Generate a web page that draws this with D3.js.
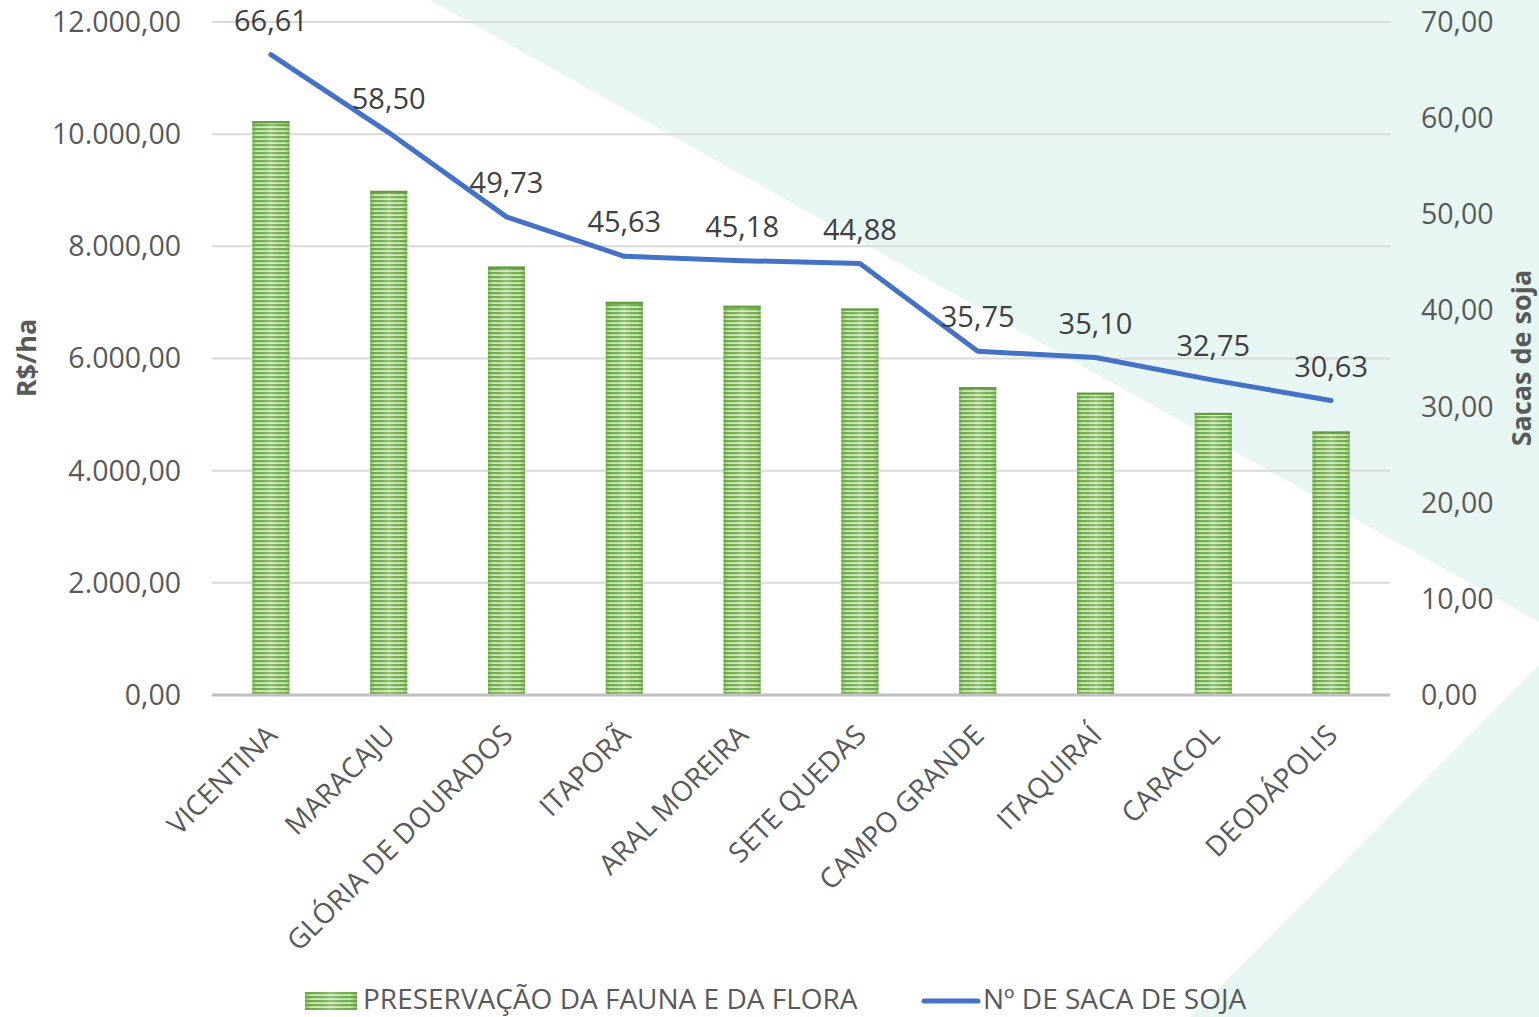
<!DOCTYPE html>
<html>
<head>
<meta charset="utf-8">
<title>Preservação da fauna e da flora</title>
<script src="https://d3js.org/d3.v7.min.js" charset="utf-8"></script>
<style>
  body { margin: 0; background: #fff; }
  text { font-family: "Open Sans", sans-serif; }
</style>
</head>
<body>
<script>
// dados
var municipios = ["VICENTINA", "MARACAJU", "GLÓRIA DE DOURADOS", "ITAPORÃ", "ARAL MOREIRA",
                  "SETE QUEDAS", "CAMPO GRANDE", "ITAQUIRAÍ", "CARACOL", "DEODÁPOLIS"];
var valorHa = [10230, 8990, 7640, 7010, 6940, 6890, 5490, 5390, 5030, 4700];   // R$/ha
var sacas = [66.61, 58.50, 49.73, 45.63, 45.18, 44.88, 35.75, 35.10, 32.75, 30.63];
var ticksEsq = [0, 2000, 4000, 6000, 8000, 10000, 12000];
var ticksDir = [0, 10, 20, 30, 40, 50, 60, 70];

var w = 1539, h = 1017;
var fmt = function(v) {
  return v.toFixed(2).replace(".", ",").replace(/\B(?=(\d{3})+(?!\d))/g, ".");
};

var svg = d3.select("body").append("svg")
  .attr("width", w).attr("height", h);

// fundo com triângulos
var bg = "#e8f6f3";
svg.append("path").attr("d", "M430,0 L1539,0 L1539,622 Z").attr("fill", bg);
svg.append("path").attr("d", "M1539,665 L1539,1017 L1190,1017 Z").attr("fill", bg);

// padrão listrado das barras
var defs = svg.append("defs");
var pat = defs.append("pattern").attr("id", "listras")
  .attr("patternUnits", "userSpaceOnUse").attr("width", 8).attr("height", 4);
pat.append("rect").attr("width", 8).attr("height", 4).attr("fill", "#d3e8c4");
pat.append("rect").attr("width", 8).attr("height", 2.2).attr("fill", "#70ad47");
var grad = defs.append("linearGradient").attr("id", "brilho")
  .attr("x1", "0").attr("x2", "1").attr("y1", "0").attr("y2", "0");
grad.append("stop").attr("offset", "0").attr("stop-color", "#5b9a35").attr("stop-opacity", 0.55);
grad.append("stop").attr("offset", "0.15").attr("stop-color", "#70ad47").attr("stop-opacity", 0);
grad.append("stop").attr("offset", "0.5").attr("stop-color", "#ffffff").attr("stop-opacity", 0.25);
grad.append("stop").attr("offset", "0.85").attr("stop-color", "#70ad47").attr("stop-opacity", 0);
grad.append("stop").attr("offset", "1").attr("stop-color", "#5b9a35").attr("stop-opacity", 0.55);

var x = d3.scaleBand().domain(municipios).range([212, 1390]);
var yEsq = d3.scaleLinear().domain([0, 12000]).range([695, 22]);
var yDir = d3.scaleLinear().domain([0, 70]).range([695, 22]);
var bw = x.bandwidth() * 0.315;
var cx = function(d) { return x(d) + x.bandwidth() / 2; };

// grade
svg.append("g").selectAll("line").data(ticksEsq.slice(1)).enter().append("line")
  .attr("x1", 212).attr("x2", 1390)
  .attr("y1", function(d) { return yEsq(d); }).attr("y2", function(d) { return yEsq(d); })
  .attr("stroke", "#d9d9d9").attr("stroke-width", 2);

// barras
var barras = svg.append("g");
municipios.forEach(function(m, i) {
  var y0 = yEsq(valorHa[i]);
  barras.append("rect").attr("x", cx(m) - bw / 2).attr("y", y0)
    .attr("width", bw).attr("height", yEsq(0) - y0).attr("fill", "url(#listras)");
  barras.append("rect").attr("x", cx(m) - bw / 2).attr("y", y0)
    .attr("width", bw).attr("height", yEsq(0) - y0).attr("fill", "url(#brilho)");
  barras.append("rect").attr("x", cx(m) - bw / 2).attr("y", y0)
    .attr("width", bw).attr("height", 2).attr("fill", "#5e9a3a");
});

// eixo x
svg.append("line").attr("x1", 212).attr("x2", 1390)
  .attr("y1", yEsq(0)).attr("y2", yEsq(0))
  .attr("stroke", "#bfbfbf").attr("stroke-width", 3);

// rótulos dos eixos y
svg.append("g").selectAll("text").data(ticksEsq).enter().append("text")
  .attr("x", 181).attr("y", function(d) { return yEsq(d); }).attr("dy", "0.35em")
  .attr("text-anchor", "end").attr("font-size", 28.5).attr("fill", "#595959")
  .text(fmt);
svg.append("g").selectAll("text").data(ticksDir).enter().append("text")
  .attr("x", 1421).attr("y", function(d) { return yDir(d); }).attr("dy", "0.35em")
  .attr("text-anchor", "start").attr("font-size", 28.5).attr("fill", "#595959")
  .text(fmt);

// categorias
svg.append("g").selectAll("text").data(municipios).enter().append("text")
  .attr("transform", function(d) { return "translate(" + (cx(d) + 1) + ",730) rotate(-45)"; })
  .attr("text-anchor", "end").attr("dy", "0.35em")
  .attr("font-size", 28).attr("fill", "#595959")
  .text(function(d) { return d; });

// títulos dos eixos
svg.append("text").attr("transform", "translate(27,358) rotate(-90)")
  .attr("text-anchor", "middle").attr("dy", "0.35em")
  .attr("font-size", 27).attr("font-weight", "bold").attr("fill", "#595959")
  .text("R$/ha");
svg.append("text").attr("transform", "translate(1522,358) rotate(-90)")
  .attr("text-anchor", "middle").attr("dy", "0.35em")
  .attr("font-size", 27).attr("font-weight", "bold").attr("fill", "#595959")
  .text("Sacas de soja");

// linha
var linha = d3.line()
  .x(function(d, i) { return cx(municipios[i]); })
  .y(function(d) { return yDir(d); });
svg.append("path").datum(sacas).attr("d", linha)
  .attr("fill", "none").attr("stroke", "#4472c4").attr("stroke-width", 5)
  .attr("stroke-linejoin", "round").attr("stroke-linecap", "round");

svg.append("g").selectAll("text").data(sacas).enter().append("text")
  .attr("x", function(d, i) { return cx(municipios[i]); })
  .attr("y", function(d) { return yDir(d) - 34; }).attr("dy", "0.35em")
  .attr("text-anchor", "middle").attr("font-size", 29).attr("fill", "#404040")
  .text(fmt);

// legenda
var leg = svg.append("g");
leg.append("rect").attr("x", 305).attr("y", 992).attr("width", 52).attr("height", 18)
  .attr("fill", "url(#listras)");
leg.append("rect").attr("x", 305).attr("y", 992).attr("width", 52).attr("height", 18)
  .attr("fill", "url(#brilho)");
leg.append("text").attr("x", 363).attr("y", 999).attr("dy", "0.35em")
  .attr("font-size", 28).attr("fill", "#595959").text("PRESERVAÇÃO DA FAUNA E DA FLORA");
leg.append("line").attr("x1", 924).attr("x2", 978).attr("y1", 1001).attr("y2", 1001)
  .attr("stroke", "#4472c4").attr("stroke-width", 5).attr("stroke-linecap", "round");
leg.append("text").attr("x", 983).attr("y", 999).attr("dy", "0.35em")
  .attr("font-size", 28).attr("fill", "#595959").text("Nº DE SACA DE SOJA");
</script>
</body>
</html>
